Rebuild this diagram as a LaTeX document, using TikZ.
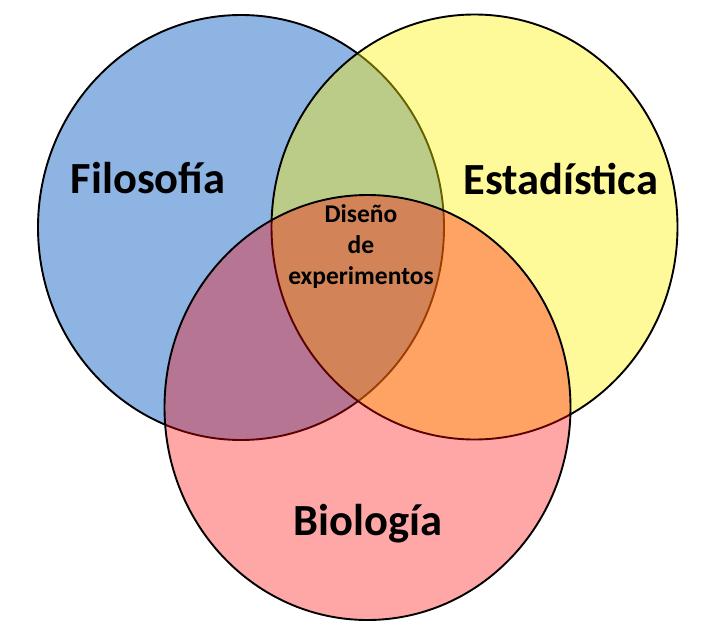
\documentclass[tikz,border=0pt]{standalone}
\usepackage{fontspec}
\setmainfont{Carlito}
\definecolor{fblue}{RGB}{142,180,227}
\tikzset{
  venn/.style={draw=black, line width=1.9pt},
  biglabel/.style={anchor=base, inner sep=0pt, font=\fontsize{44.5}{50}\selectfont\bfseries},
  smalllabel/.style={anchor=base, inner sep=0pt, font=\fontsize{25.5}{31}\selectfont\bfseries, align=center}
}
\begin{document}
\begin{tikzpicture}[x=1pt,y=-1pt]
\useasboundingbox (0,0) rectangle (725,629);
% Filosofia
\fill[fblue] (241,227.5) ellipse [x radius=203pt, y radius=212.5pt];
\draw[venn] (241,227.5) ellipse [x radius=203pt, y radius=212.5pt];
% Estadistica
\fill[yellow, fill opacity=0.4] (474.5,227) ellipse [x radius=203pt, y radius=212.5pt];
\draw[venn] (474.5,227) ellipse [x radius=203pt, y radius=212.5pt];
% Biologia
\fill[red, fill opacity=0.35] (367.5,407.5) ellipse [x radius=203pt, y radius=212.5pt];
\draw[venn] (367.5,407.5) ellipse [x radius=203pt, y radius=212.5pt];
% labels
\node[biglabel] (fil) at (148,193) {Filosofía};
\node[biglabel] (est) at (561,194) {Estadística};
\node[biglabel] (bio) at (368,535) {Biología};
\node[smalllabel] (dis) at (361,284) {Diseño\\de\\experimentos};
\end{tikzpicture}
\end{document}
